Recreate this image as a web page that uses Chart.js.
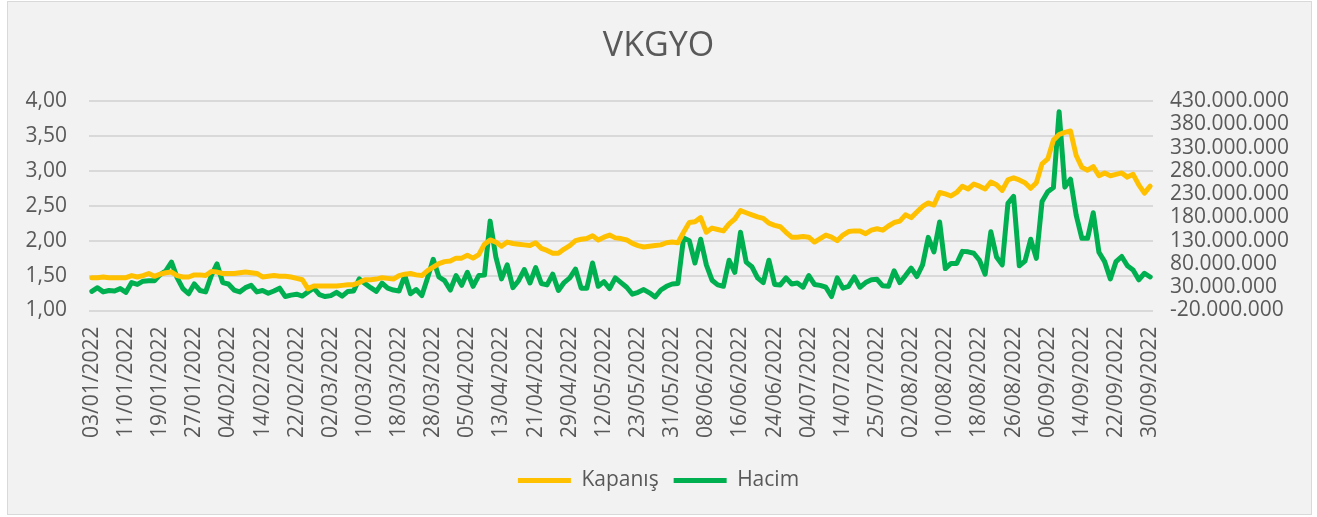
<!DOCTYPE html>
<html>
<head>
<meta charset="utf-8">
<title>VKGYO</title>
<script src="https://cdn.jsdelivr.net/npm/chart.js@4.4.0/dist/chart.umd.min.js"></script>
<style>
  html, body { margin: 0; padding: 0; background: #ffffff; }
  #wrap { width: 1317px; height: 517px; }
</style>
</head>
<body>
<div id="wrap"><canvas id="vkgyoChart" width="1317" height="517"></canvas></div>
<script>
// trading days per month (2022)
var janDays = [3, 4, 5, 6, 7, 10, 11, 12, 13, 14, 17, 18, 19, 20, 21, 24, 25, 26, 27, 28, 31];
var febDays = [1, 2, 3, 4, 7, 8, 9, 10, 11, 14, 15, 16, 17, 18, 21, 22, 23, 24, 25, 28];
var marDays = [1, 2, 3, 4, 7, 8, 9, 10, 11, 14, 15, 16, 17, 18, 21, 22, 23, 24, 25, 28, 29, 30, 31];
var aprDays = [1, 4, 5, 6, 7, 8, 11, 12, 13, 14, 15, 18, 19, 20, 21, 22, 25, 26, 27, 28, 29];
var mayDays = [5, 6, 9, 10, 11, 12, 13, 16, 17, 18, 20, 23, 24, 25, 26, 27, 30, 31];
var junDays = [1, 2, 3, 6, 7, 8, 9, 10, 13, 14, 15, 16, 17, 20, 21, 22, 23, 24, 27, 28, 29, 30];
var julDays = [1, 4, 5, 6, 7, 8, 13, 14, 18, 19, 20, 21, 22, 25, 26, 27, 28, 29];
var augDays = [1, 2, 3, 4, 5, 8, 9, 10, 11, 12, 15, 16, 17, 18, 19, 22, 23, 24, 25, 26, 29, 31];
var sepDays = [1, 2, 5, 6, 7, 8, 9, 12, 13, 14, 15, 16, 19, 20, 21, 22, 23, 26, 27, 28, 29, 30];

// Kapanış (TL)
var kapanis = [
    1.47, 1.47, 1.48, 1.47, 1.47, 1.47, 1.47, 1.50, 1.48, 1.50,
    1.53, 1.49, 1.52, 1.54, 1.55, 1.50, 1.48, 1.48, 1.51, 1.51,
    1.50, 1.56, 1.55, 1.53, 1.53, 1.53, 1.54, 1.55, 1.54, 1.53,
    1.48, 1.49, 1.50, 1.49, 1.49, 1.48, 1.46, 1.44, 1.31, 1.35,
    1.35, 1.35, 1.35, 1.35, 1.36, 1.37, 1.37, 1.40, 1.44, 1.44,
    1.45, 1.47, 1.46, 1.45, 1.50, 1.52, 1.53, 1.51, 1.50, 1.57,
    1.62, 1.67, 1.70, 1.71, 1.75, 1.75, 1.79, 1.75, 1.80, 1.95,
    2.01, 1.98, 1.92, 1.98, 1.96, 1.95, 1.94, 1.93, 1.97, 1.89,
    1.86, 1.82, 1.82, 1.88, 1.93, 2.00, 2.02, 2.03, 2.07, 2.01,
    2.05, 2.08, 2.04, 2.03, 2.01, 1.96, 1.93, 1.91, 1.92, 1.93,
    1.94, 1.97, 1.98, 1.97, 2.12, 2.26, 2.27, 2.33, 2.12, 2.18,
    2.16, 2.14, 2.24, 2.31, 2.43, 2.40, 2.37, 2.34, 2.32, 2.25,
    2.22, 2.20, 2.12, 2.05, 2.05, 2.06, 2.05, 1.98, 2.03, 2.08,
    2.05, 2.00, 2.08, 2.13, 2.14, 2.14, 2.10, 2.15, 2.17, 2.15,
    2.21, 2.26, 2.28, 2.37, 2.33, 2.41, 2.49, 2.54, 2.51, 2.69,
    2.67, 2.64, 2.69, 2.78, 2.74, 2.81, 2.78, 2.74, 2.84, 2.80,
    2.72, 2.87, 2.90, 2.87, 2.83, 2.75, 2.83, 3.10, 3.17, 3.44,
    3.52, 3.55, 3.57, 3.22, 3.05, 3.01, 3.06, 2.93, 2.97, 2.93,
    2.95, 2.97, 2.91, 2.95, 2.80, 2.68, 2.78
];

// Hacim (milyon)
var hacim = [
    21, 29, 20, 23, 22, 27, 19, 40, 36, 43,
    44, 44, 57, 65, 84, 50, 27, 16, 37, 23,
    20, 55, 80, 40, 37, 24, 20, 29, 34, 20,
    23, 17, 22, 28, 10, 13, 15, 11, 20, 28,
    14, 10, 12, 19, 11, 21, 22, 48, 38, 29,
    21, 39, 28, 24, 22, 55, 16, 25, 12, 50,
    90, 52, 44, 24, 55, 34, 62, 32, 55, 56,
    172, 95, 48, 78, 29, 44, 68, 39, 72, 38,
    35, 58, 23, 40, 50, 69, 28, 28, 82, 32,
    42, 27, 50, 40, 30, 15, 19, 25, 18, 9,
    24, 32, 37, 38, 136, 130, 82, 133, 78, 45,
    35, 32, 88, 62, 148, 84, 74, 50, 40, 88,
    36, 35, 50, 37, 39, 30, 55, 36, 34, 30,
    10, 50, 28, 32, 52, 30, 40, 46, 47, 33,
    32, 65, 40, 55, 71, 53, 78, 137, 106, 170,
    70, 81, 81, 107, 106, 103, 88, 58, 149, 95,
    78, 210, 225, 76, 86, 133, 92, 214, 235, 244,
    407, 245, 262, 185, 135, 135, 190, 105, 85, 48,
    85, 96, 76, 67, 46, 60, 52
];

var labelStep = 6;
var fontFamily = '"Open Sans", "Noto Sans", sans-serif';
var textColor = '#595959';

var months = [janDays, febDays, marDays, aprDays, mayDays, junDays, julDays, augDays, sepDays];
var labels = [];
months.forEach(function (days, m) {
    days.forEach(function (d) {
        labels.push(pad2(d) + '/' + pad2(m + 1) + '/2022');
    });
});

function pad2(n) {
    return (n < 10 ? '0' : '') + n;
}

function formatDots(n) {
    var neg = n < 0;
    var s = String(Math.abs(Math.round(n)));
    var out = '';
    while (s.length > 3) {
        out = '.' + s.slice(-3) + out;
        s = s.slice(0, -3);
    }
    return (neg ? '-' : '') + s + out;
}

var backgroundPlugin = {
    id: 'background',
    beforeDraw: function (chart) {
        var ctx = chart.ctx;
        ctx.save();
        ctx.fillStyle = '#ffffff';
        ctx.fillRect(0, 0, chart.width, chart.height);
        ctx.fillStyle = '#f2f2f2';
        ctx.fillRect(7, 1, 1305, 514);
        ctx.strokeStyle = '#d9d9d9';
        ctx.lineWidth = 1;
        ctx.strokeRect(7.5, 1.5, 1304, 513);
        ctx.restore();
    }
};

new Chart(document.getElementById('vkgyoChart'), {
    type: 'line',
    data: {
        labels: labels,
        datasets: [{
            label: 'Kapanış',
            data: kapanis,
            yAxisID: 'y',
            borderColor: '#ffc000',
            backgroundColor: '#ffc000',
            borderWidth: 5,
            borderCapStyle: 'round',
            borderJoinStyle: 'round',
            pointRadius: 0,
            tension: 0
        }, {
            label: 'Hacim',
            data: hacim,
            yAxisID: 'y1',
            borderColor: '#00b050',
            backgroundColor: '#00b050',
            borderWidth: 5,
            borderCapStyle: 'round',
            borderJoinStyle: 'round',
            pointRadius: 0,
            tension: 0
        }]
    },
    options: {
        responsive: false,
        animation: false,
        layout: {
            padding: { left: 0, right: 0, top: 0, bottom: 16 }
        },
        plugins: {
            title: {
                display: true,
                text: 'VKGYO',
                color: textColor,
                font: { family: fontFamily, size: 34, weight: 'normal', lineHeight: 1.2 },
                padding: { top: 26, bottom: 34.2 }
            },
            legend: {
                position: 'bottom',
                labels: {
                    usePointStyle: true,
                    pointStyle: 'line',
                    pointStyleWidth: 53,
                    color: textColor,
                    padding: 15,
                    font: { family: fontFamily, size: 21 }
                }
            },
            tooltip: { enabled: false }
        },
        scales: {
            x: {
                offset: true,
                grid: { display: false, drawTicks: false },
                border: { display: false },
                ticks: {
                    autoSkip: false,
                    maxRotation: 90,
                    minRotation: 90,
                    padding: 16,
                    color: textColor,
                    font: { family: fontFamily, size: 21 },
                    callback: function (value, index) {
                        return index % labelStep === 0 ? this.getLabelForValue(value) : '';
                    }
                },
                afterFit: function (scale) {
                    scale.height = 144.5;
                }
            },
            y: {
                position: 'left',
                min: 1,
                max: 4,
                grid: { color: '#d9d9d9', lineWidth: 2, drawTicks: false },
                border: { display: false },
                ticks: {
                    stepSize: 0.5,
                    autoSkip: false,
                    padding: 22,
                    color: textColor,
                    font: { family: fontFamily, size: 21 },
                    callback: function (value) {
                        return value.toFixed(2).replace('.', ',');
                    }
                },
                afterFit: function (scale) {
                    scale.width = 89;
                }
            },
            y1: {
                position: 'right',
                min: -20,
                max: 430,
                grid: { display: false, drawTicks: false },
                border: { display: false },
                ticks: {
                    stepSize: 50,
                    autoSkip: false,
                    padding: 17,
                    color: textColor,
                    font: { family: fontFamily, size: 21 },
                    callback: function (value) {
                        return formatDots(value * 1000000);
                    }
                },
                afterFit: function (scale) {
                    scale.width = 164;
                }
            }
        }
    },
    plugins: [backgroundPlugin]
});
</script>
</body>
</html>
